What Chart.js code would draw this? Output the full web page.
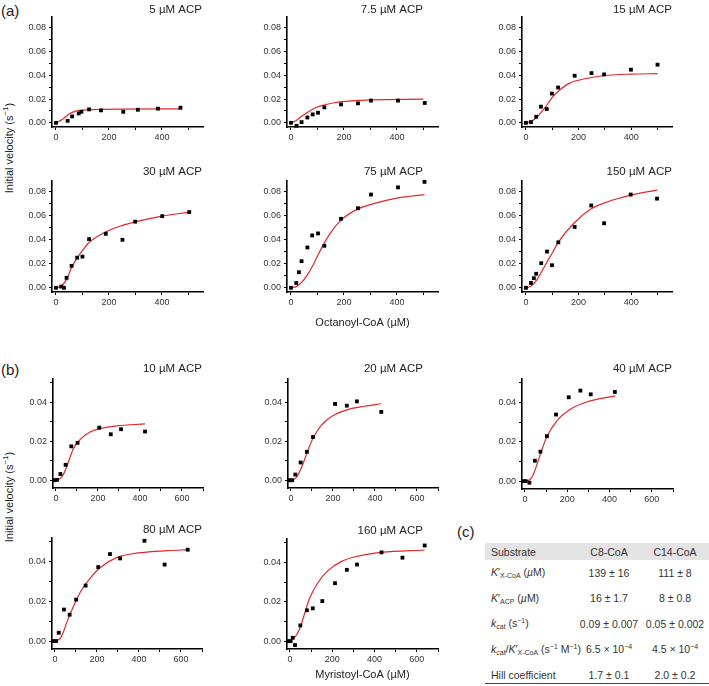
<!DOCTYPE html>
<html>
<head>
<meta charset="utf-8">
<script src="https://cdn.jsdelivr.net/npm/chart.js@4.4.1/dist/chart.umd.min.js"></script>
<style>
  body { margin: 0; background: #fff; }
  #fig { position: relative; width: 709px; height: 686px; overflow: hidden; font-family: "Liberation Sans", Arial, sans-serif; color: #222; }
  #fig canvas { position: absolute; }
  .lab { position: absolute; font-size: 15px; line-height: 1; }
  .ytitle { position: absolute; font-size: 11px; white-space: nowrap; transform: translate(-50%, -50%) rotate(-90deg); }
  #tbl { position: absolute; left: 485px; top: 543px; width: 224px; table-layout: fixed; border-collapse: collapse; font-size: 10.5px; color: #333; }
  #tbl th { background: #e4e4e4; font-weight: normal; height: 17px; padding: 0; }
  #tbl td { height: 25.5px; padding: 0; white-space: nowrap; }
  #tbl th:first-child, #tbl td:first-child { text-align: left; padding-left: 6px; }
  #tbl th, #tbl td { text-align: center; }
  #tbl tr:last-child td { height: 19px; vertical-align: bottom; padding-bottom: 2px; border-bottom: 1px solid #444; }
  #tbl sub { font-size: 7px; vertical-align: -2px; }
  #tbl sup { font-size: 7px; vertical-align: 4px; }
</style>
</head>
<body>
<div id="fig">
  <div class="lab" style="left:1px;top:3px">(a)</div>
  <div class="lab" style="left:1px;top:362px">(b)</div>
  <div class="lab" style="left:457px;top:524px">(c)</div>
  <div class="ytitle" style="left:8px;top:148px">Initial velocity (s<sup style="font-size:8px">−1</sup>)</div>
  <div class="ytitle" style="left:8px;top:497px">Initial velocity (s<sup style="font-size:8px">−1</sup>)</div>
  <table id="tbl"><colgroup><col style="width:92px"><col style="width:64px"><col style="width:68px"></colgroup><tbody id="tbody"></tbody></table>
</div>
<script>
/* ======================
   DATA: OCTANOYL-CoA (a)
====================== */
const oct5x = [0, 44, 61, 86, 96, 125, 170, 254, 309, 385, 470]
const oct5v = [0, 0.0017, 0.0054, 0.0079, 0.0093, 0.0113, 0.0105, 0.0093, 0.011, 0.0119, 0.0127]
const oct5fitX = [0, 25, 50, 75, 100, 150, 250, 400, 470]
const oct5fitV = [0, 0.003, 0.0075, 0.0098, 0.0107, 0.0112, 0.0115, 0.0117, 0.0117]

const oct7x = [0, 21, 40, 62, 82, 102, 126, 189, 253, 302, 404, 505]
const oct7v = [0, -0.0025, 0.0006, 0.0045, 0.0071, 0.0085, 0.013, 0.0155, 0.0164, 0.0187, 0.0187, 0.0167]
const oct7fitX = [0, 20, 40, 60, 90, 125, 190, 300, 500]
const oct7fitV = [0, 0.002, 0.0055, 0.0085, 0.0125, 0.015, 0.0178, 0.0193, 0.0199]

const oct15x = [0, 19, 39, 57, 79, 99, 122, 185, 249, 297, 399, 500]
const oct15v = [0, 0.0006, 0.0051, 0.0136, 0.0116, 0.0246, 0.0297, 0.0396, 0.0418, 0.0407, 0.0447, 0.0489]
const oct15fitX = [0, 20, 40, 60, 80, 100, 125, 166, 229, 291, 400, 500]
const oct15fitV = [0, 0.0012, 0.0045, 0.0095, 0.015, 0.0215, 0.027, 0.0334, 0.0373, 0.0396, 0.041, 0.0414]

const oct30x = [0, 20, 30, 40, 59, 80, 100, 125, 188, 251, 299, 401, 503]
const oct30v = [0, 0.001, 0.0, 0.0083, 0.0183, 0.0251, 0.026, 0.0406, 0.045, 0.04, 0.0551, 0.0597, 0.0631]
const oct30fitX = [0, 20, 40, 60, 80, 100, 125, 188, 251, 300, 400, 500]
const oct30fitV = [0, 0.0015, 0.007, 0.0175, 0.025, 0.031, 0.0377, 0.0466, 0.052, 0.055, 0.0598, 0.0629]

const oct75x = [0, 20, 30, 40, 62, 80, 102, 126, 189, 253, 302, 404, 504]
const oct75v = [0, 0.004, 0.013, 0.0222, 0.0336, 0.0436, 0.0453, 0.035, 0.0575, 0.0663, 0.0777, 0.0837, 0.0883]
const oct75fitX = [0, 20, 40, 62, 80, 102, 125, 150, 189, 253, 302, 404, 504]
const oct75fitV = [0, 0.001, 0.0045, 0.0108, 0.0175, 0.0273, 0.037, 0.046, 0.0564, 0.0658, 0.0695, 0.0749, 0.0777]

const oct150x = [0, 19, 30, 39, 58, 80, 99, 123, 185, 248, 297, 398, 498]
const oct150v = [0, 0.004, 0.008, 0.0117, 0.0205, 0.0302, 0.0188, 0.0379, 0.0507, 0.0686, 0.0538, 0.0777, 0.0743]
const oct150fitX = [0, 20, 40, 60, 80, 100, 123, 185, 248, 297, 398, 498]
const oct150fitV = [0, 0.0015, 0.0062, 0.0135, 0.0215, 0.029, 0.038, 0.0544, 0.0658, 0.0706, 0.0772, 0.0814]

/* ======================
   DATA: MYRISTOYL-CoA (b)
====================== */
const myr10x = [-6, 5, 21, 46, 73, 103, 206, 261, 310, 424]
const myr10v = [0, 0.0002, 0.0032, 0.0079, 0.0174, 0.0192, 0.027, 0.0236, 0.0262, 0.025]
const myr10fitX = [0, 20, 36, 50, 60, 84, 116, 163, 211, 290, 424]
const myr10fitV = [0, 0.0008, 0.003, 0.0065, 0.0096, 0.0164, 0.021, 0.0248, 0.0265, 0.0279, 0.0289]

const myr20x = [-6, 6, 21, 46, 76, 105, 210, 266, 314, 430]
const myr20v = [0, 0, 0.0029, 0.0091, 0.0146, 0.0222, 0.0392, 0.0383, 0.0405, 0.0351]
const myr20fitX = [0, 20, 32, 50, 64, 80, 104, 143, 191, 271, 350, 430]
const myr20fitV = [0, 0.0008, 0.0024, 0.0065, 0.0104, 0.0152, 0.0213, 0.028, 0.0326, 0.0363, 0.038, 0.0393]

const myr40x = [-9, 3, 21, 47, 73, 104, 147, 207, 262, 311, 425]
const myr40v = [0, 0, -0.0008, 0.0104, 0.015, 0.0229, 0.0339, 0.0427, 0.0461, 0.0442, 0.0454]
const myr40fitX = [0, 24, 40, 55, 75, 103, 150, 213, 292, 427]
const myr40fitV = [0, 0.0008, 0.0035, 0.0079, 0.0145, 0.0225, 0.0306, 0.0365, 0.0403, 0.0434]

const myr80x = [-8, 5, 18, 43, 70, 101, 146, 206, 262, 310, 426, 522, 632]
const myr80v = [0, 0, 0.0042, 0.0159, 0.0133, 0.0209, 0.028, 0.0373, 0.0439, 0.0417, 0.0506, 0.0386, 0.0461]
const myr80fitX = [0, 24, 40, 56, 88, 120, 168, 216, 296, 408, 536, 632]
const myr80fitV = [0, 0.0012, 0.0045, 0.0093, 0.0174, 0.0245, 0.0317, 0.0371, 0.0422, 0.0446, 0.0456, 0.0461]

const myr160x = [-8, 3, 13, 24, 49, 80, 108, 153, 213, 269, 317, 433, 532, 637]
const myr160v = [0, 0, 0.0017, -0.002, 0.008, 0.0157, 0.0167, 0.0204, 0.0295, 0.0363, 0.039, 0.0452, 0.0425, 0.0487]
const myr160fitX = [0, 27, 45, 59, 75, 91, 131, 178, 242, 322, 433, 637]
const myr160fitV = [0, 0.0025, 0.006, 0.0104, 0.016, 0.0213, 0.0296, 0.0358, 0.0405, 0.0433, 0.0452, 0.0464]

/* ---------- TICKS ---------- */
const octXTicks = [0, 100, 200, 300, 400, 500]
const octYTicks = [0, 0.01, 0.02, 0.03, 0.04, 0.05, 0.06, 0.07, 0.08]
const myrXTicks = [0, 100, 200, 300, 400, 500, 600, 700]
const myrYTicks = [0, 0.01, 0.02, 0.03, 0.04, 0.05]

/* ---------- TABLE (c) ---------- */
const tableHead = ["Substrate", "C8-CoA", "C14-CoA"]
const paramNames = [
  "<i>K</i>′<sub>X-CoA</sub> (<i>µ</i>M)",
  "<i>K</i>′<sub>ACP</sub> (<i>µ</i>M)",
  "<i>k</i><sub>cat</sub> (s<sup>−1</sup>)",
  "<i>k</i><sub>cat</sub>/<i>K</i>′<sub>X-CoA</sub> (s<sup>−1</sup> M<sup>−1</sup>)",
  "Hill coefficient"
]
const c8Values = ["139 ± 16", "16 ± 1.7", "0.09 ± 0.007", "6.5 × 10<sup>−4</sup>", "1.7 ± 0.1"]
const c14Values = ["111 ± 8", "8 ± 0.8", "0.05 ± 0.002", "4.5 × 10<sup>−4</sup>", "2.0 ± 0.2"]

/* ======================
   TABLE
====================== */
document.getElementById("tbody").innerHTML =
  "<tr>" + tableHead.map(h => `<th>${h}</th>`).join("") + "</tr>" +
  paramNames.map((p, i) => `<tr><td>${p}</td><td>${c8Values[i]}</td><td>${c14Values[i]}</td></tr>`).join("")

/* ======================
   PANELS
====================== */
const FONT = "'Liberation Sans', Arial, sans-serif"

const groups = {
  oct: { xMin: -15, xMax: 555, yMin: -0.0035, yMax: 0.089, xTicks: octXTicks, yTicks: octYTicks },
  myr: { xMin: -14, xMax: 700, yMin: -0.004, yMax: 0.052, xTicks: myrXTicks, yTicks: myrYTicks }
}

// box = [left, top, right, bottom] of plot area; tdx/tdy = title anchor offset from plot's top-right
const panels = [
  { g: "oct", x: oct5x, v: oct5v, fx: oct5fitX, fv: oct5fitV, title: "5 µM ACP", box: [52, 17, 203, 127], tdx: -1, tdy: -7 },
  { g: "oct", x: oct7x, v: oct7v, fx: oct7fitX, fv: oct7fitV, title: "7.5 µM ACP", box: [287, 17, 438, 127], tdx: -15, tdy: -7 },
  { g: "oct", x: oct15x, v: oct15v, fx: oct15fitX, fv: oct15fitV, title: "15 µM ACP", box: [522, 17, 672, 127], tdx: 0, tdy: -7 },
  { g: "oct", x: oct30x, v: oct30v, fx: oct30fitX, fv: oct30fitV, title: "30 µM ACP", box: [52, 181, 203, 292], tdx: -1, tdy: -9 },
  { g: "oct", x: oct75x, v: oct75v, fx: oct75fitX, fv: oct75fitV, title: "75 µM ACP", box: [287, 181, 438, 292], tdx: -15, tdy: -9, xTitle: "Octanoyl-CoA (µM)", xTitleY: 323 },
  { g: "oct", x: oct150x, v: oct150v, fx: oct150fitX, fv: oct150fitV, title: "150 µM ACP", box: [522, 181, 672, 292], tdx: 0, tdy: -9 },
  { g: "myr", x: myr10x, v: myr10v, fx: myr10fitX, fv: myr10fitV, title: "10 µM ACP", box: [53, 379, 203, 488], tdx: -1, tdy: -10 },
  { g: "myr", x: myr20x, v: myr20v, fx: myr20fitX, fv: myr20fitV, title: "20 µM ACP", box: [288, 379, 438, 488], tdx: -15, tdy: -10 },
  { g: "myr", x: myr40x, v: myr40v, fx: myr40fitX, fv: myr40fitV, title: "40 µM ACP", box: [522, 379, 673, 489], tdx: -1, tdy: -10 },
  { g: "myr", x: myr80x, v: myr80v, fx: myr80fitX, fv: myr80fitV, title: "80 µM ACP", box: [52, 538, 202, 649], tdx: 0, tdy: -8 },
  { g: "myr", x: myr160x, v: myr160v, fx: myr160fitX, fv: myr160fitV, title: "160 µM ACP", box: [287, 539, 438, 649], tdx: -15, tdy: -8, xTitle: "Myristoyl-CoA (µM)", xTitleY: 675 }
]

const panelTitle = {
  id: "panelTitle",
  afterDraw(chart, args, opts) {
    const { ctx, chartArea } = chart
    ctx.save()
    ctx.font = `11.5px ${FONT}`
    ctx.fillStyle = "#222"
    ctx.textAlign = "right"
    ctx.textBaseline = "middle"
    ctx.fillText(opts.text, chartArea.right + opts.dx, chartArea.top + opts.dy)
    ctx.restore()
  }
}

const YW = 42, PADTOP = 20, PADR = 6
const fig = document.getElementById("fig")

panels.forEach(p => {
  const g = groups[p.g]
  const [l, t, r, b] = p.box
  const xh = p.xTitle ? Math.round(p.xTitleY + 7 - b) : 22
  const c = document.createElement("canvas")
  c.width = (r - l) + YW + PADR
  c.height = PADTOP + (b - t) + xh
  c.style.left = (l - YW) + "px"
  c.style.top = (t - PADTOP) + "px"
  fig.appendChild(c)

  const axisCommon = {
    type: "linear",
    grid: { drawOnChartArea: false, drawTicks: true, tickLength: 3, color: "#000", tickColor: "#000", tickWidth: 1 },
    border: { display: true, color: "#000", width: 1.6 }
  }

  new Chart(c, {
    type: "scatter",
    data: {
      datasets: [
        {
          type: "line",
          data: p.fx.map((x, i) => ({ x, y: p.fv[i] })),
          borderColor: "#e3272b",
          borderWidth: 1.2,
          pointRadius: 0,
          cubicInterpolationMode: "monotone",
          fill: false,
          order: 2
        },
        {
          data: p.x.map((x, i) => ({ x, y: p.v[i] })),
          pointStyle: "rect",
          pointRadius: 2.7,
          backgroundColor: "#000",
          borderColor: "#000",
          borderWidth: 0,
          clip: false,
          order: 1
        }
      ]
    },
    options: {
      responsive: false,
      animation: false,
      events: [],
      layout: { padding: { top: PADTOP, right: PADR, left: 0, bottom: 0 } },
      plugins: {
        legend: { display: false },
        tooltip: { enabled: false },
        panelTitle: { text: p.title, dx: p.tdx, dy: p.tdy }
      },
      scales: {
        x: {
          ...axisCommon,
          min: g.xMin, max: g.xMax,
          afterBuildTicks: s => { s.ticks = g.xTicks.map(v => ({ value: v })) },
          afterFit: s => { s.height = xh },
          ticks: {
            autoSkip: false, maxRotation: 0, padding: 2,
            font: { family: FONT, size: 9 }, color: "#333",
            callback: (v, i) => i % 2 === 0 ? String(v) : ""
          },
          title: p.xTitle ? { display: true, text: p.xTitle, font: { family: FONT, size: 11 }, color: "#222", padding: 0 } : { display: false }
        },
        y: {
          ...axisCommon,
          min: g.yMin, max: g.yMax,
          afterBuildTicks: s => { s.ticks = g.yTicks.map(v => ({ value: v })) },
          afterFit: s => { s.width = YW },
          ticks: {
            autoSkip: false, padding: 3,
            font: { family: FONT, size: 9 }, color: "#333",
            callback: (v, i) => i % 2 === 0 ? v.toFixed(2) : ""
          }
        }
      }
    },
    plugins: [panelTitle]
  })
})
</script>
</body>
</html>
